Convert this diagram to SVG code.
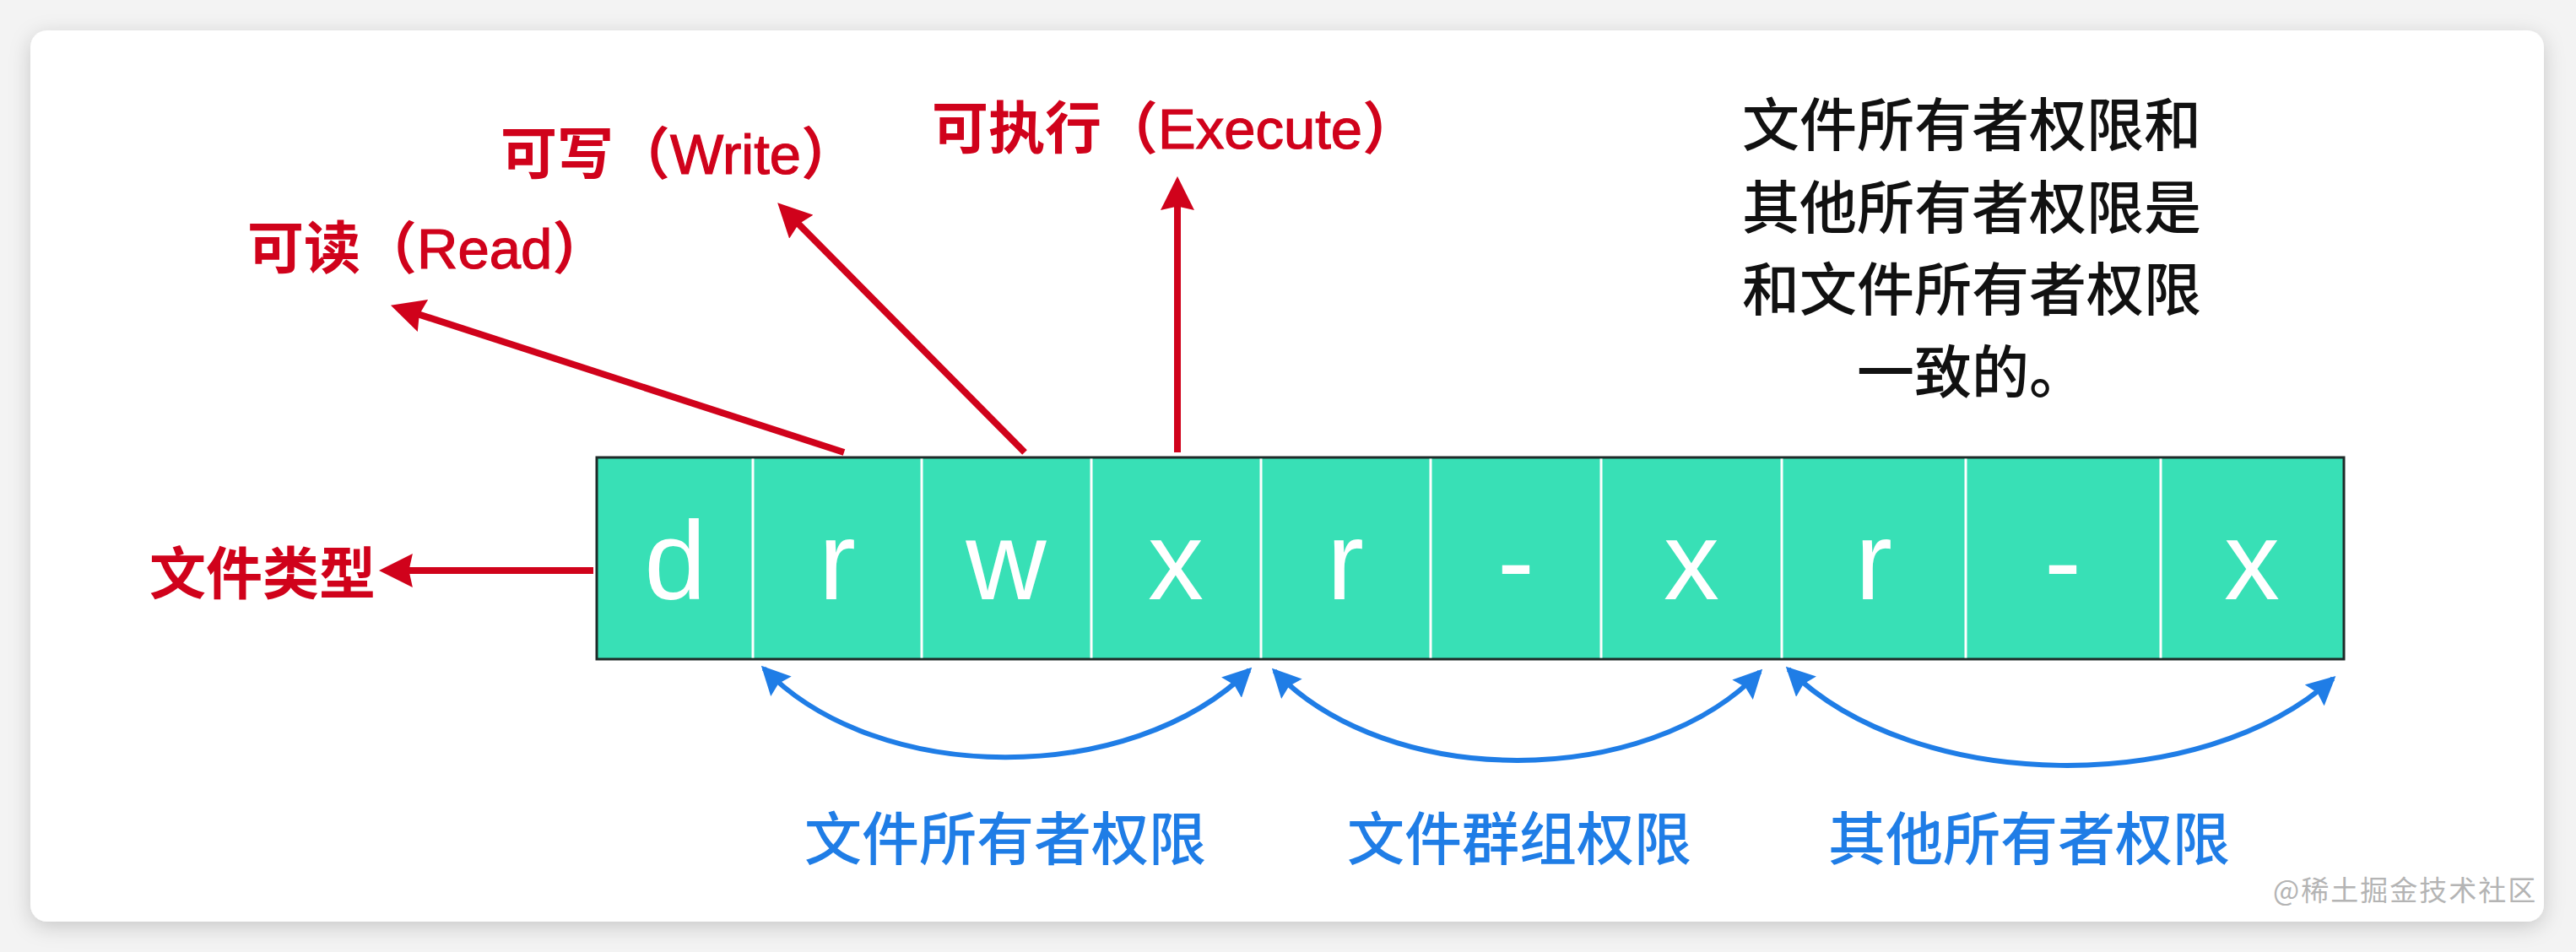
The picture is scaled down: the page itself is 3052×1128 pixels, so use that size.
<svg xmlns="http://www.w3.org/2000/svg" width="3052" height="1128" viewBox="0 0 3052 1128">
<style>
.red{fill:#d0021b;font-family:"Liberation Sans","Noto Sans CJK SC",sans-serif;font-size:67px;font-weight:600}
.lat{font-weight:400;stroke:#d0021b;stroke-width:1.2}
.blue{fill:#1f7de6;font-family:"Liberation Sans","Noto Sans CJK SC",sans-serif;font-size:68px;font-weight:500}
.black{fill:#111;font-family:"Liberation Sans","Noto Sans CJK SC",sans-serif;font-size:68px;font-weight:500}
.cell{fill:#38e0b6}
.ch{fill:#ffffff;font-family:"Liberation Sans",Arial,sans-serif;font-size:132px;text-anchor:middle}
.sep{stroke:#ffffff;stroke-width:3}
.rline{stroke:#d0021b;stroke-width:8;fill:none}
.bline{stroke:#1f7de6;stroke-width:6;fill:none}
.wm{fill:#b4b4b4;font-family:"Noto Sans CJK SC",sans-serif;font-size:33px;letter-spacing:2px}
</style>
<defs>
<filter id="sh" x="-5%" y="-5%" width="110%" height="115%">
<feDropShadow dx="0" dy="6" stdDeviation="12" flood-color="#000" flood-opacity="0.18"/>
</filter>
<marker id="rh" markerUnits="userSpaceOnUse" markerWidth="40" markerHeight="40" viewBox="0 0 36 36" refX="26" refY="18" orient="auto">
<path d="M0,0 L36,18 L0,36 L4,18 z" fill="#d0021b"/>
</marker>
<marker id="bh" markerUnits="userSpaceOnUse" markerWidth="34" markerHeight="34" viewBox="0 0 30 30" refX="26" refY="15" orient="auto-start-reverse">
<path d="M0,0 L30,15 L0,30 L4,15 z" fill="#1f7de6"/>
</marker>
</defs>
<rect width="3052" height="1128" fill="#f3f3f3"/>
<rect x="36" y="36" width="2978" height="1056" rx="20" fill="#ffffff" filter="url(#sh)"/>

<g id="cells">
<rect class="cell" x="707" y="542" width="2070" height="239" stroke="#1e2a28" stroke-width="3"/>
<g id="cell-d"><text class="ch" x="800" y="710">d</text></g>
<g id="cell-r1"><text class="ch" x="992" y="710">r</text></g>
<g id="cell-w1"><text class="ch" x="1192" y="710">w</text></g>
<g id="cell-x1"><text class="ch" x="1393" y="710">x</text></g>
<g id="cell-r2"><text class="ch" x="1594" y="710">r</text></g>
<g id="cell-dash2"><text class="ch" x="1796" y="710">-</text></g>
<g id="cell-x2"><text class="ch" x="2004" y="710">x</text></g>
<g id="cell-r3"><text class="ch" x="2220" y="710">r</text></g>
<g id="cell-dash3"><text class="ch" x="2444" y="710">-</text></g>
<g id="cell-x3"><text class="ch" x="2668" y="710">x</text></g>
<g id="separators">
<line class="sep" x1="892" y1="543.5" x2="892" y2="779.5"/>
<line class="sep" x1="1092" y1="543.5" x2="1092" y2="779.5"/>
<line class="sep" x1="1293" y1="543.5" x2="1293" y2="779.5"/>
<line class="sep" x1="1494" y1="543.5" x2="1494" y2="779.5"/>
<line class="sep" x1="1695" y1="543.5" x2="1695" y2="779.5"/>
<line class="sep" x1="1897" y1="543.5" x2="1897" y2="779.5"/>
<line class="sep" x1="2111" y1="543.5" x2="2111" y2="779.5"/>
<line class="sep" x1="2329" y1="543.5" x2="2329" y2="779.5"/>
<line class="sep" x1="2560" y1="543.5" x2="2560" y2="779.5"/>
</g>
</g>

<g id="connectors">
<line class="rline" x1="1000" y1="536" x2="473.5" y2="365.1" marker-end="url(#rh)"/>
<line class="rline" x1="1214" y1="536" x2="929" y2="248.1" marker-end="url(#rh)"/>
<line class="rline" x1="1395" y1="536" x2="1395" y2="220" marker-end="url(#rh)"/>
<line class="rline" x1="703" y1="676" x2="460" y2="676" marker-end="url(#rh)"/>
<path class="bline" d="M905,792 C1040,932 1340,932 1480,794" marker-start="url(#bh)" marker-end="url(#bh)"/>
<path class="bline" d="M1510,795 C1645,936 1950,936 2085,796" marker-start="url(#bh)" marker-end="url(#bh)"/>
<path class="bline" d="M2119,793 C2270,942 2610,944 2764,804" marker-start="url(#bh)" marker-end="url(#bh)"/>
</g>

<g id="label-read"><text class="red" x="293" y="318">可读（<tspan class="lat">Read</tspan>）</text></g>
<g id="label-write"><text class="red" x="593" y="206">可写（<tspan class="lat">Write</tspan>）</text></g>
<g id="label-execute"><text class="red" x="1104" y="176">可执行（<tspan class="lat">Execute</tspan>）</text></g>
<g id="label-type"><text class="red" x="177" y="704">文件类型</text></g>

<g id="label-owner"><text class="blue" x="953" y="1019">文件所有者权限</text></g>
<g id="label-group"><text class="blue" x="1596" y="1019">文件群组权限</text></g>
<g id="label-other"><text class="blue" x="2166" y="1019">其他所有者权限</text></g>

<g id="note">
<text class="black" text-anchor="middle" x="2336" y="173">文件所有者权限和</text>
<text class="black" text-anchor="middle" x="2336" y="271">其他所有者权限是</text>
<text class="black" text-anchor="middle" x="2336" y="368">和文件所有者权限</text>
<text class="black" text-anchor="middle" x="2336" y="466">一致的。</text>
</g>

<text class="wm" x="2693" y="1067">@稀土掘金技术社区</text>
</svg>
